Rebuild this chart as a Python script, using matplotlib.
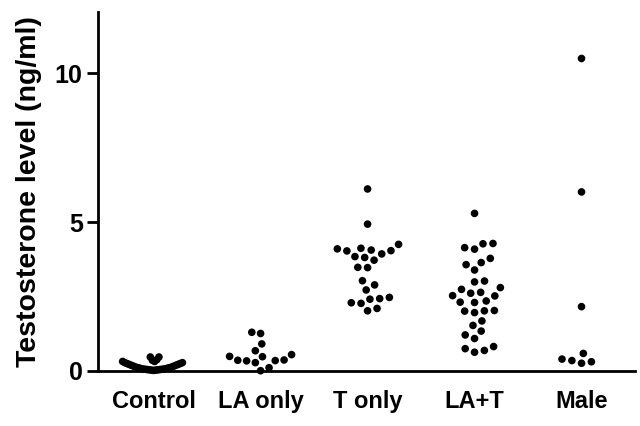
import numpy as np
import matplotlib
matplotlib.use("Agg")
from matplotlib import pyplot as plt

plt.rcParams['font.family'] = ['Liberation Sans', 'DejaVu Sans']
plt.rcParams['font.weight'] = 'bold'

# data (ng/ml)
groups = ['Control', 'LA only', 'T only', 'LA+T', 'Male']

control = [0.02, 0.03, 0.03, 0.04, 0.04, 0.05, 0.05, 0.06, 0.06, 0.07, 0.07,
           0.09, 0.09, 0.11, 0.11, 0.13, 0.13, 0.16, 0.16, 0.19, 0.19,
           0.22, 0.22, 0.25, 0.25, 0.28, 0.28, 0.32, 0.32, 0.36, 0.38,
           0.47, 0.47]
la_only = [1.30, 1.26, 0.91, 0.68, 0.48, 0.49, 0.55, 0.37, 0.35, 0.28,
           0.36, 0.34, 0.11, 0.01]
t_only = [6.11, 4.93, 4.25, 4.12, 4.06, 4.04, 4.03, 4.10, 3.81, 3.84, 3.93,
          3.72, 3.48, 3.47, 3.03, 2.89, 2.72, 2.27, 2.43, 2.41, 2.29, 2.47,
          2.02, 2.10]
la_t = [5.29, 4.28, 4.09, 4.14, 4.27, 3.64, 3.78, 3.57, 3.39, 3.02, 2.99,
        2.64, 2.80, 2.74, 2.53, 2.52, 2.61, 2.31, 2.35, 2.30, 2.02, 2.01,
        1.96, 2.03, 1.68, 1.53, 1.34, 1.21, 1.09, 0.75, 0.63, 0.69, 0.82]
male = [10.49, 6.01, 2.16, 0.59, 0.35, 0.26, 0.31, 0.40]

all_groups = [control, la_only, t_only, la_t, male]

W, H, DPI = 6.4, 4.26, 100
fig = plt.figure(figsize=(W, H), dpi=DPI)
ax = fig.add_axes([98 / 640, 55 / 426, 537 / 640, 359 / 426])
xlim = (-0.52, 4.5)
ylim = (0, 12.05)
ax.set_xlim(*xlim)
ax.set_ylim(*ylim)

# pixels per data unit
ppu_x = 537 / (xlim[1] - xlim[0])
ppu_y = 359 / (ylim[1] - ylim[0])


def swarm(vals, gap=10.0, max_half=31.0):
    vals = np.asarray(vals, dtype=float)
    order = np.argsort(vals, kind='stable')
    placed = []
    for y in vals[order] * ppu_y:
        cands = [0.0]
        for px, py in placed:
            dy = y - py
            if abs(dy) < gap:
                dx = np.sqrt(gap ** 2 - dy ** 2)
                cands += [px - dx, px + dx]
        bal = sum(p[0] for p in placed)
        cands.sort(key=lambda c: (round(abs(c), 3), c if bal > 0 else -c))
        best = cands[0]
        for c in cands:
            if all((c - px) ** 2 + (y - py) ** 2 >= gap ** 2 - 1e-6 for px, py in placed):
                best = c
                break
        placed.append((best, y))
    offs = np.array([p[0] for p in placed])
    m = np.abs(offs).max()
    if m > max_half:
        offs = offs * max_half / m
    out = np.empty(len(vals))
    out[order] = offs
    return out / ppu_x


for i, vals in enumerate(all_groups):
    xs = i + swarm(vals)
    ax.scatter(xs, vals, s=30, color='black', edgecolors='none', zorder=3,
               clip_on=False)

ax.spines['top'].set_visible(False)
ax.spines['right'].set_visible(False)
ax.spines['left'].set_linewidth(2)
ax.spines['bottom'].set_linewidth(2)

ax.set_yticks([0, 5, 10])
ax.tick_params(axis='y', length=8, width=2, pad=3, labelsize=18)
ax.set_xticks(range(len(groups)))
ax.set_xticklabels(groups)
ax.tick_params(axis='x', length=0, pad=14, labelsize=17)
for lab in ax.get_xticklabels() + ax.get_yticklabels():
    lab.set_fontweight('bold')

ax.set_ylabel('Testosterone level (ng/ml)', fontsize=20.5, fontweight='bold')
ax.yaxis.set_label_coords(-0.104, 0.5)

fig.savefig('out.png', dpi=DPI)
